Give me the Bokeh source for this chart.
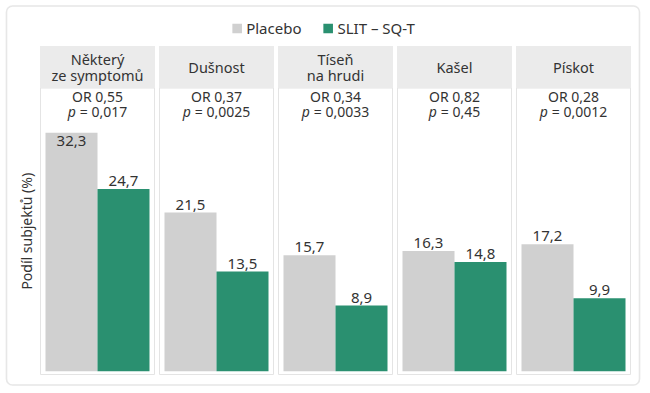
from bokeh.plotting import figure
from bokeh.models import Range1d, ColumnDataSource, Legend, LegendItem, BoxAnnotation
from bokeh.core.properties import value
from bokeh.embed import file_html
from bokeh.resources import INLINE

# ---- data ----
categories = ["Některý\nze symptomů", "Dušnost", "Tíseň\nna hrudi", "Kašel", "Pískot"]
placebo = [32.3, 21.5, 15.7, 16.3, 17.2]
slit = [24.7, 13.5, 8.9, 14.8, 9.9]
odds_ratio = ["0,55", "0,37", "0,34", "0,82", "0,28"]
p_values = ["0,017", "0,0025", "0,0033", "0,45", "0,0012"]
series_names = ["Placebo", "SLIT – SQ-T"]
y_label = "Podíl subjektů (%)"

# ---- style ----
FONT = "Noto Sans"
TXT = "#333333"
C_PLACEBO = "#d0d0d0"
C_SLIT = "#2a9070"
STRIP = "#ebebeb"
PANEL_LINE = "#e4e4e4"

W, H = 645, 390
PX_X = 119.0          # px per category
PX_Y = 7.38           # px per percent
BASE_Y = 370.7        # canvas y of zero

x_start = -97.0 / PX_X
x_end = x_start + W / PX_X
y_start = -(H - BASE_Y) / PX_Y
y_end = y_start + H / PX_Y

def ys(canvas_y):
    return (BASE_Y - canvas_y) / PX_Y

p = figure(width=W, height=H, x_range=Range1d(x_start, x_end), y_range=Range1d(y_start, y_end),
           output_backend="svg", toolbar_location=None, min_border=0,
           x_axis_location=None, y_axis_location=None, outline_line_color=None)
p.grid.visible = False

n = len(categories)
idx = list(range(n))

panel_top = ys(87.5)
panel_bottom = ys(374)
strip_top = ys(45.5)
strip_bottom = ys(87.5)

# panels
p.quad(left=[i - 0.479 for i in idx], right=[i + 0.479 for i in idx],
       bottom=panel_bottom, top=panel_top, fill_color="white", line_color=PANEL_LINE, line_width=1)
# strips
p.quad(left=[i - 0.483 for i in idx], right=[i + 0.483 for i in idx],
       bottom=strip_bottom, top=strip_top, fill_color=STRIP, line_color=None)

strip_mid = (strip_bottom + strip_top) / 2
lx, ly, lt, lo = [], [], [], []
for i, c in enumerate(categories):
    lines = c.split("\n")
    k = len(lines)
    for j, ln in enumerate(lines):
        lx.append(i)
        ly.append(strip_mid)
        lt.append(ln)
        lo.append((j - (k - 1) / 2) * 16.5)
p.text(x=lx, y=ly, text=lt, y_offset=lo,
       text_font=value(FONT), text_font_size="14.5px", text_color=TXT,
       text_align="center", text_baseline="middle")

# OR / p texts
y_or = ys(95.5)
y_p = ys(111)
p.text(x=idx, y=[y_or] * n, text=["OR " + o for o in odds_ratio],
       text_font=value(FONT), text_font_size="14px", text_color=TXT,
       text_align="center", text_baseline="middle")

CW = {"p": 0.6, " ": 0.26, "=": 0.572, ",": 0.26}
def width(s, fs=14):
    return sum(CW.get(ch, 0.572) for ch in s) * fs

rest = ["= " + pv for pv in p_values]
totals = [width("p ") + width(r) for r in rest]
p.text(x=idx, y=[y_p] * n, text=["p"] * n, x_offset=[-t / 2 for t in totals],
       text_font=value(FONT), text_font_size="14px", text_font_style="italic", text_color=TXT,
       text_align="left", text_baseline="middle")
p.text(x=idx, y=[y_p] * n, text=rest, x_offset=[-t / 2 + width("p ") for t in totals],
       text_font=value(FONT), text_font_size="14px", text_color=TXT,
       text_align="left", text_baseline="middle")

# bars
BW = 0.437
OFF = 0.2185
src_p = ColumnDataSource(dict(x=[i - OFF for i in idx], top=placebo))
src_s = ColumnDataSource(dict(x=[i + OFF for i in idx], top=slit))
r1 = p.vbar(x="x", top="top", width=BW, bottom=0, source=src_p, fill_color=C_PLACEBO, line_color=None)
r2 = p.vbar(x="x", top="top", width=BW, bottom=0, source=src_s, fill_color=C_SLIT, line_color=None)

# value labels
def fmt(v):
    return f"{v:.1f}".replace(".", ",")

for xs, vals in ((src_p.data["x"], placebo), (src_s.data["x"], slit)):
    inside = [v > 30 for v in vals]
    p.text(x=xs, y=vals, text=[fmt(v) for v in vals],
           y_offset=[3 if ins else -3 for ins in inside],
           text_baseline=["top" if ins else "bottom" for ins in inside],
           text_font=value(FONT), text_font_size="15px", text_color=TXT, text_align="center")

# y label
p.text(x=[x_start + 26 / PX_X], y=[(panel_top + panel_bottom) / 2], text=[y_label], angle=1.5708,
       text_font=value(FONT), text_font_size="14px", text_color=TXT,
       text_align="center", text_baseline="middle")

# outer rounded box
box = BoxAnnotation(left=x_start + 6 / PX_X, right=x_start + 639 / PX_X,
                    top=ys(5.5), bottom=ys(384.5),
                    fill_color=None, fill_alpha=0, line_color="#aeaeae", line_width=1.6,
                    border_radius=6)
p.add_layout(box)

legend = Legend(items=[LegendItem(label=series_names[0], renderers=[r1]),
                       LegendItem(label=series_names[1], renderers=[r2])],
                orientation="horizontal", location="top_center",
                border_line_color=None, background_fill_alpha=0,
                glyph_width=12, glyph_height=12, label_standoff=4, spacing=20,
                margin=18, padding=0,
                label_text_font=FONT, label_text_font_size="15px", label_text_color=TXT)
p.add_layout(legend, "center")

open("out.html", "w").write(file_html(p, INLINE))
